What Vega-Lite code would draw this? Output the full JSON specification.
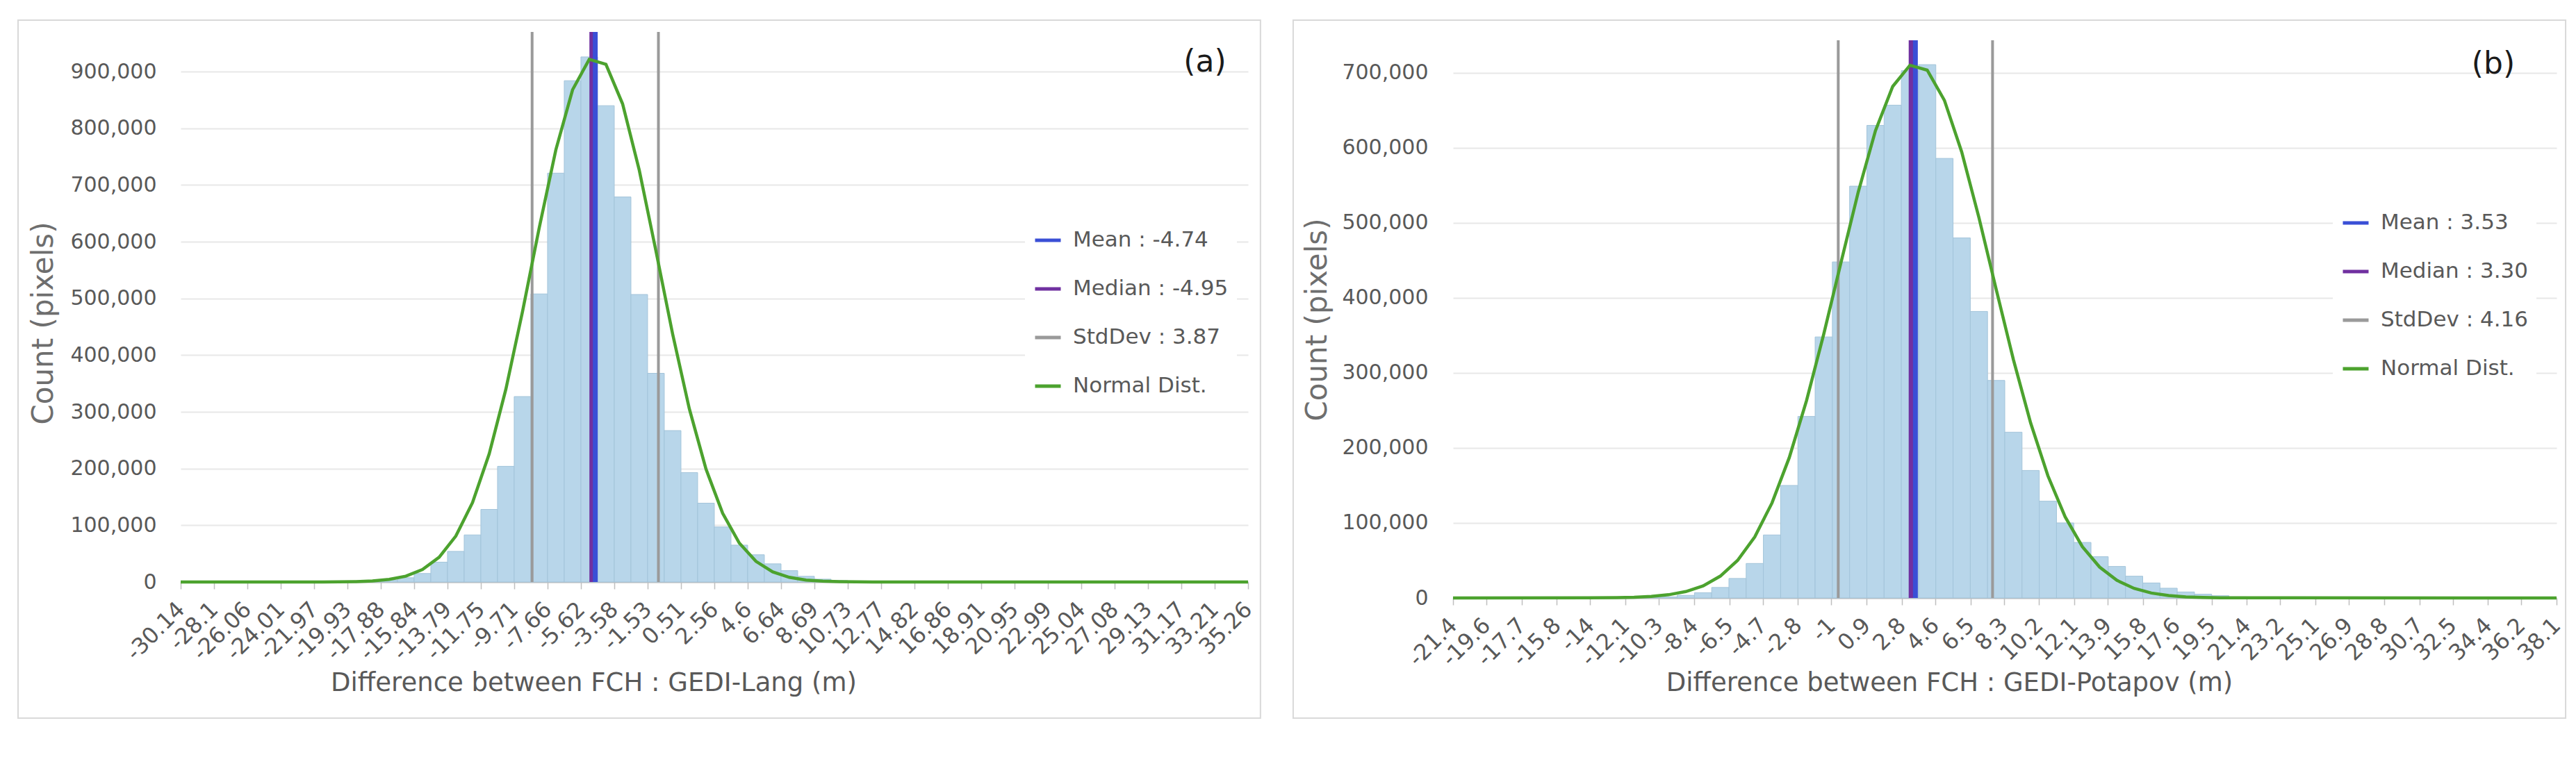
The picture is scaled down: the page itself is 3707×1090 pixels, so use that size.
{
  "$schema": "https://vega.github.io/schema/vega-lite/v6.json",
  "background": "white",
  "padding": {"left": 24, "top": 28, "right": 16, "bottom": 56},
  "autosize": {"type": "pad"},
  "config": {
    "font": "DejaVu Sans",
    "view": {"stroke": null},
    "axis": {"labelFont": "DejaVu Sans", "titleFont": "DejaVu Sans", "titleFontWeight": "normal"},
    "legend": {"orient": "none", "symbolType": "stroke", "symbolStrokeWidth": 5, "symbolSize": 1369, "labelFontSize": 31, "labelColor": "#595959", "labelFont": "DejaVu Sans", "rowPadding": 34, "fillColor": "white", "padding": 12, "labelOffset": 15, "labelLimit": 500}
  },
  "spacing": 295,
  "bounds": "flush",
  "resolve": {"scale": {"color": "independent", "x": "independent", "y": "independent"}, "legend": {"color": "independent"}},
  "datasets": {
    "barsA": [
      {"x0": -19.926, "x1": -18.904, "count": 500},
      {"x0": -18.904, "x1": -17.883, "count": 1500},
      {"x0": -17.883, "x1": -16.861, "count": 3500},
      {"x0": -16.861, "x1": -15.839, "count": 7500},
      {"x0": -15.839, "x1": -14.817, "count": 15000},
      {"x0": -14.817, "x1": -13.795, "count": 35000},
      {"x0": -13.795, "x1": -12.773, "count": 54000},
      {"x0": -12.773, "x1": -11.751, "count": 83000},
      {"x0": -11.751, "x1": -10.729, "count": 128000},
      {"x0": -10.729, "x1": -9.708, "count": 204000},
      {"x0": -9.708, "x1": -8.686, "count": 327000},
      {"x0": -8.686, "x1": -7.664, "count": 508000},
      {"x0": -7.664, "x1": -6.642, "count": 721000},
      {"x0": -6.642, "x1": -5.62, "count": 884000},
      {"x0": -5.62, "x1": -4.598, "count": 926000},
      {"x0": -4.598, "x1": -3.576, "count": 840000},
      {"x0": -3.576, "x1": -2.554, "count": 679000},
      {"x0": -2.554, "x1": -1.533, "count": 507000},
      {"x0": -1.533, "x1": -0.511, "count": 368000},
      {"x0": -0.511, "x1": 0.511, "count": 267000},
      {"x0": 0.511, "x1": 1.533, "count": 193000},
      {"x0": 1.533, "x1": 2.555, "count": 139000},
      {"x0": 2.555, "x1": 3.577, "count": 97000},
      {"x0": 3.577, "x1": 4.599, "count": 65000},
      {"x0": 4.599, "x1": 5.621, "count": 48000},
      {"x0": 5.621, "x1": 6.643, "count": 32000},
      {"x0": 6.643, "x1": 7.664, "count": 20000},
      {"x0": 7.664, "x1": 8.686, "count": 10000},
      {"x0": 8.686, "x1": 9.708, "count": 5000},
      {"x0": 9.708, "x1": 10.73, "count": 2500},
      {"x0": 10.73, "x1": 11.752, "count": 1000},
      {"x0": 11.752, "x1": 12.774, "count": 400}
    ],
    "curveA": [
      {"x": -30.145, "y": 0},
      {"x": -21.459, "y": 100},
      {"x": -20.437, "y": 250},
      {"x": -19.415, "y": 700},
      {"x": -18.393, "y": 1800},
      {"x": -17.371, "y": 4500},
      {"x": -16.35, "y": 10300},
      {"x": -15.328, "y": 21900},
      {"x": -14.306, "y": 43600},
      {"x": -13.284, "y": 81000},
      {"x": -12.262, "y": 140000},
      {"x": -11.24, "y": 225900},
      {"x": -10.218, "y": 340000},
      {"x": -9.197, "y": 477100},
      {"x": -8.175, "y": 624500},
      {"x": -7.153, "y": 762400},
      {"x": -6.131, "y": 868000},
      {"x": -5.109, "y": 921800},
      {"x": -4.087, "y": 913000},
      {"x": -3.066, "y": 843200},
      {"x": -2.044, "y": 726300},
      {"x": -1.022, "y": 583700},
      {"x": 0.0, "y": 437400},
      {"x": 1.022, "y": 305700},
      {"x": 2.044, "y": 199200},
      {"x": 3.066, "y": 121100},
      {"x": 4.087, "y": 68600},
      {"x": 5.109, "y": 36300},
      {"x": 6.131, "y": 17900},
      {"x": 7.153, "y": 8200},
      {"x": 8.175, "y": 3500},
      {"x": 9.197, "y": 1400},
      {"x": 10.218, "y": 500},
      {"x": 11.24, "y": 200},
      {"x": 12.263, "y": 100},
      {"x": 35.26, "y": 0}
    ],
    "statsA": [
      {"stat": "StdDev : 3.87", "value": -8.61, "kind": "sd"},
      {"stat": "StdDev : 3.87", "value": -0.87, "kind": "sd"},
      {"stat": "Median : -4.95", "value": -4.95, "kind": "center"},
      {"stat": "Mean : -4.74", "value": -4.74, "kind": "center"}
    ],
    "barsB": [
      {"x0": -11.173, "x1": -10.244, "count": 500},
      {"x0": -10.244, "x1": -9.314, "count": 1500},
      {"x0": -9.314, "x1": -8.384, "count": 3500},
      {"x0": -8.384, "x1": -7.455, "count": 7000},
      {"x0": -7.455, "x1": -6.525, "count": 14000},
      {"x0": -6.525, "x1": -5.595, "count": 26000},
      {"x0": -5.595, "x1": -4.666, "count": 46000},
      {"x0": -4.666, "x1": -3.736, "count": 84000},
      {"x0": -3.736, "x1": -2.806, "count": 150000},
      {"x0": -2.806, "x1": -1.877, "count": 242000},
      {"x0": -1.877, "x1": -0.947, "count": 348000},
      {"x0": -0.947, "x1": -0.017, "count": 448000},
      {"x0": -0.017, "x1": 0.913, "count": 549000},
      {"x0": 0.913, "x1": 1.842, "count": 630000},
      {"x0": 1.842, "x1": 2.772, "count": 657000},
      {"x0": 2.772, "x1": 3.702, "count": 703000},
      {"x0": 3.702, "x1": 4.631, "count": 711000},
      {"x0": 4.631, "x1": 5.561, "count": 586000},
      {"x0": 5.561, "x1": 6.491, "count": 480000},
      {"x0": 6.491, "x1": 7.42, "count": 382000},
      {"x0": 7.42, "x1": 8.35, "count": 290000},
      {"x0": 8.35, "x1": 9.28, "count": 221000},
      {"x0": 9.28, "x1": 10.209, "count": 170000},
      {"x0": 10.209, "x1": 11.139, "count": 129000},
      {"x0": 11.139, "x1": 12.069, "count": 100000},
      {"x0": 12.069, "x1": 12.998, "count": 74000},
      {"x0": 12.998, "x1": 13.928, "count": 55000},
      {"x0": 13.928, "x1": 14.858, "count": 42000},
      {"x0": 14.858, "x1": 15.788, "count": 29000},
      {"x0": 15.788, "x1": 16.717, "count": 20000},
      {"x0": 16.717, "x1": 17.647, "count": 13000},
      {"x0": 17.647, "x1": 18.577, "count": 8000},
      {"x0": 18.577, "x1": 19.506, "count": 5000},
      {"x0": 19.506, "x1": 20.436, "count": 3000},
      {"x0": 20.436, "x1": 21.366, "count": 1500},
      {"x0": 21.366, "x1": 22.295, "count": 700}
    ],
    "curveB": [
      {"x": -21.4, "y": 0},
      {"x": -12.568, "y": 400},
      {"x": -11.638, "y": 900},
      {"x": -10.708, "y": 2000},
      {"x": -9.779, "y": 4300},
      {"x": -8.849, "y": 8500},
      {"x": -7.919, "y": 16100},
      {"x": -6.99, "y": 29100},
      {"x": -6.06, "y": 50000},
      {"x": -5.13, "y": 81500},
      {"x": -4.201, "y": 126700},
      {"x": -3.271, "y": 187100},
      {"x": -2.341, "y": 263100},
      {"x": -1.412, "y": 351700},
      {"x": -0.482, "y": 447200},
      {"x": 0.448, "y": 541100},
      {"x": 1.377, "y": 622900},
      {"x": 2.307, "y": 681900},
      {"x": 3.237, "y": 710200},
      {"x": 4.166, "y": 703700},
      {"x": 5.096, "y": 663300},
      {"x": 6.026, "y": 594700},
      {"x": 6.955, "y": 507200},
      {"x": 7.885, "y": 411500},
      {"x": 8.815, "y": 317700},
      {"x": 9.744, "y": 233300},
      {"x": 10.674, "y": 162900},
      {"x": 11.604, "y": 108200},
      {"x": 12.533, "y": 68400},
      {"x": 13.463, "y": 41200},
      {"x": 14.393, "y": 23500},
      {"x": 15.322, "y": 12800},
      {"x": 16.252, "y": 6600},
      {"x": 17.182, "y": 3300},
      {"x": 18.111, "y": 1500},
      {"x": 19.041, "y": 700},
      {"x": 19.971, "y": 300},
      {"x": 38.1, "y": 0}
    ],
    "statsB": [
      {"stat": "StdDev : 4.16", "value": -0.63, "kind": "sd"},
      {"stat": "StdDev : 4.16", "value": 7.69, "kind": "sd"},
      {"stat": "Median : 3.30", "value": 3.30, "kind": "center"},
      {"stat": "Mean : 3.53", "value": 3.53, "kind": "center"}
    ]
  },
  "hconcat": [
    {
      "width": 1536,
      "height": 792,
      "layer": [
        {
          "data": {"values": [{}]},
          "mark": {"type": "rect", "fillOpacity": 0, "stroke": "#d9d9d9", "strokeWidth": 2, "clip": false},
          "encoding": {
            "x": {"datum": -40.11, "type": "quantitative", "title": "Difference between FCH : GEDI-Lang (m)"},
            "x2": {"datum": 36.02},
            "y": {"datum": 990800, "type": "quantitative", "title": "Count (pixels)"},
            "y2": {"datum": -240000}
          }
        },
        {
          "data": {"name": "barsA"},
          "mark": {"type": "rect", "fill": "#b8d6ea", "stroke": "#a3c4da", "strokeWidth": 1},
          "encoding": {
            "x": {
              "field": "x0", "type": "quantitative",
              "scale": {"domain": [-30.145, 35.26], "nice": false, "zero": false},
              "axis": {
                "values": [-30.14, -28.1, -26.06, -24.01, -21.97, -19.93, -17.88, -15.84, -13.79, -11.75, -9.71, -7.66, -5.62, -3.58, -1.53, 0.51, 2.56, 4.6, 6.64, 8.69, 10.73, 12.77, 14.82, 16.86, 18.91, 20.95, 22.99, 25.04, 27.08, 29.13, 31.17, 33.21, 35.26],
                "labelExpr": "toString(datum.value)",
                "labelAngle": -45, "labelAlign": "right", "labelBaseline": "middle",
                "labelFontSize": 32, "labelColor": "#595959", "labelPadding": 24,
                "labelOverlap": false, "labelFlush": false, "labelBound": false,
                "tickColor": "#bfbfbf", "tickSize": 10, "tickWidth": 1.5,
                "domainColor": "#bfbfbf", "domainWidth": 2, "grid": false,
                "titleFontSize": 37, "titleColor": "#595959",
                "titleX": 594, "titleY": 145, "titleAlign": "center", "titleBaseline": "middle"
              },
              "title": "Difference between FCH : GEDI-Lang (m)"
            },
            "x2": {"field": "x1"},
            "y": {
              "field": "count", "type": "quantitative",
              "scale": {"domain": [0, 970000], "nice": false, "zero": true},
              "axis": {
                "values": [0, 100000, 200000, 300000, 400000, 500000, 600000, 700000, 800000, 900000],
                "format": ",d", "domain": false, "ticks": false, "labelPadding": 35,
                "labelFontSize": 30, "labelColor": "#595959",
                "grid": true, "gridColor": "#e8e8e8", "gridWidth": 2,
                "titleFontSize": 42, "titleColor": "#6e6e6e",
                "titleX": -198, "titleY": 419, "titleAngle": -90, "titleAlign": "center", "titleBaseline": "middle"
              },
              "title": "Count (pixels)"
            },
            "y2": {"datum": 0}
          }
        },
        {
          "data": {"name": "statsA"},
          "transform": [{"filter": "datum.kind === 'sd'"}],
          "mark": {"type": "rule", "strokeWidth": 4},
          "encoding": {
            "x": {"field": "value", "type": "quantitative", "title": "Difference between FCH : GEDI-Lang (m)"},
            "y": {"datum": 0, "type": "quantitative", "title": "Count (pixels)"},
            "y2": {"datum": 970000},
            "color": {
              "field": "stat", "type": "nominal",
              "scale": {"domain": ["Mean : -4.74", "Median : -4.95", "StdDev : 3.87", "Normal Dist."], "range": ["#3a4fd6", "#7030a0", "#9a9a9a", "#4ca22e"]},
              "legend": {"title": null, "legendX": 1215, "legendY": 267}
            }
          }
        },
        {
          "data": {"name": "statsA"},
          "transform": [{"filter": "datum.kind === 'center'"}],
          "mark": {"type": "rule", "strokeWidth": 7},
          "encoding": {
            "x": {"field": "value", "type": "quantitative", "title": "Difference between FCH : GEDI-Lang (m)"},
            "y": {"datum": 0, "type": "quantitative", "title": "Count (pixels)"},
            "y2": {"datum": 970000},
            "color": {"field": "stat", "type": "nominal"}
          }
        },
        {
          "data": {"name": "curveA"},
          "mark": {"type": "line", "strokeWidth": 4.5},
          "encoding": {
            "x": {"field": "x", "type": "quantitative", "title": "Difference between FCH : GEDI-Lang (m)"},
            "y": {"field": "y", "type": "quantitative", "title": "Count (pixels)"},
            "color": {"datum": "Normal Dist.", "type": "nominal"}
          }
        },
        {
          "data": {"values": [{}]},
          "mark": {"type": "text", "text": "(a)", "fontSize": 44, "color": "#1a1a1a", "align": "center", "baseline": "middle"},
          "encoding": {
            "x": {"datum": 32.62, "type": "quantitative", "title": "Difference between FCH : GEDI-Lang (m)"},
            "y": {"datum": 916000, "type": "quantitative", "title": "Count (pixels)"}
          }
        }
      ]
    },
    {
      "width": 1588,
      "height": 815,
      "layer": [
        {
          "data": {"values": [{}]},
          "mark": {"type": "rect", "fillOpacity": 0, "stroke": "#d9d9d9", "strokeWidth": 2, "clip": false},
          "encoding": {
            "x": {"datum": -30.02, "type": "quantitative", "title": "Difference between FCH : GEDI-Potapov (m)"},
            "x2": {"datum": 38.59},
            "y": {"datum": 770300, "type": "quantitative", "title": "Count (pixels)"},
            "y2": {"datum": -160200}
          }
        },
        {
          "data": {"name": "barsB"},
          "mark": {"type": "rect", "fill": "#b8d6ea", "stroke": "#a3c4da", "strokeWidth": 1},
          "encoding": {
            "x": {
              "field": "x0", "type": "quantitative",
              "scale": {"domain": [-21.4, 38.1], "nice": false, "zero": false},
              "axis": {
                "values": [-21.4, -19.6, -17.7, -15.8, -14, -12.1, -10.3, -8.4, -6.5, -4.7, -2.8, -1, 0.9, 2.8, 4.6, 6.5, 8.3, 10.2, 12.1, 13.9, 15.8, 17.6, 19.5, 21.4, 23.2, 25.1, 26.9, 28.8, 30.7, 32.5, 34.4, 36.2, 38.1],
                "labelExpr": "toString(datum.value)",
                "labelAngle": -45, "labelAlign": "right", "labelBaseline": "middle",
                "labelFontSize": 32, "labelColor": "#595959", "labelPadding": 24,
                "labelOverlap": false, "labelFlush": false, "labelBound": false,
                "tickColor": "#bfbfbf", "tickSize": 10, "tickWidth": 1.5,
                "domainColor": "#bfbfbf", "domainWidth": 2, "grid": false,
                "titleFontSize": 37, "titleColor": "#595959",
                "titleX": 714, "titleY": 122, "titleAlign": "center", "titleBaseline": "middle"
              },
              "title": "Difference between FCH : GEDI-Potapov (m)"
            },
            "x2": {"field": "x1"},
            "y": {
              "field": "count", "type": "quantitative",
              "scale": {"domain": [0, 754600], "nice": false, "zero": true},
              "axis": {
                "values": [0, 100000, 200000, 300000, 400000, 500000, 600000, 700000],
                "format": ",d", "domain": false, "ticks": false, "labelPadding": 36,
                "labelFontSize": 30, "labelColor": "#595959",
                "grid": true, "gridColor": "#e8e8e8", "gridWidth": 2,
                "titleFontSize": 42, "titleColor": "#6e6e6e",
                "titleX": -196, "titleY": 414, "titleAngle": -90, "titleAlign": "center", "titleBaseline": "middle"
              },
              "title": "Count (pixels)"
            },
            "y2": {"datum": 0}
          }
        },
        {
          "data": {"name": "statsB"},
          "transform": [{"filter": "datum.kind === 'sd'"}],
          "mark": {"type": "rule", "strokeWidth": 4},
          "encoding": {
            "x": {"field": "value", "type": "quantitative", "title": "Difference between FCH : GEDI-Potapov (m)"},
            "y": {"datum": 0, "type": "quantitative", "title": "Count (pixels)"},
            "y2": {"datum": 743500},
            "color": {
              "field": "stat", "type": "nominal",
              "scale": {"domain": ["Mean : 3.53", "Median : 3.30", "StdDev : 4.16", "Normal Dist."], "range": ["#3a4fd6", "#7030a0", "#9a9a9a", "#4ca22e"]},
              "legend": {"title": null, "legendX": 1266, "legendY": 242}
            }
          }
        },
        {
          "data": {"name": "statsB"},
          "transform": [{"filter": "datum.kind === 'center'"}],
          "mark": {"type": "rule", "strokeWidth": 7},
          "encoding": {
            "x": {"field": "value", "type": "quantitative", "title": "Difference between FCH : GEDI-Potapov (m)"},
            "y": {"datum": 0, "type": "quantitative", "title": "Count (pixels)"},
            "y2": {"datum": 743500},
            "color": {"field": "stat", "type": "nominal"}
          }
        },
        {
          "data": {"name": "curveB"},
          "mark": {"type": "line", "strokeWidth": 4.5},
          "encoding": {
            "x": {"field": "x", "type": "quantitative", "title": "Difference between FCH : GEDI-Potapov (m)"},
            "y": {"field": "y", "type": "quantitative", "title": "Count (pixels)"},
            "color": {"datum": "Normal Dist.", "type": "nominal"}
          }
        },
        {
          "data": {"values": [{}]},
          "mark": {"type": "text", "text": "(b)", "fontSize": 44, "color": "#1a1a1a", "align": "center", "baseline": "middle"},
          "encoding": {
            "x": {"datum": 34.69, "type": "quantitative", "title": "Difference between FCH : GEDI-Potapov (m)"},
            "y": {"datum": 711000, "type": "quantitative", "title": "Count (pixels)"}
          }
        }
      ]
    }
  ]
}
